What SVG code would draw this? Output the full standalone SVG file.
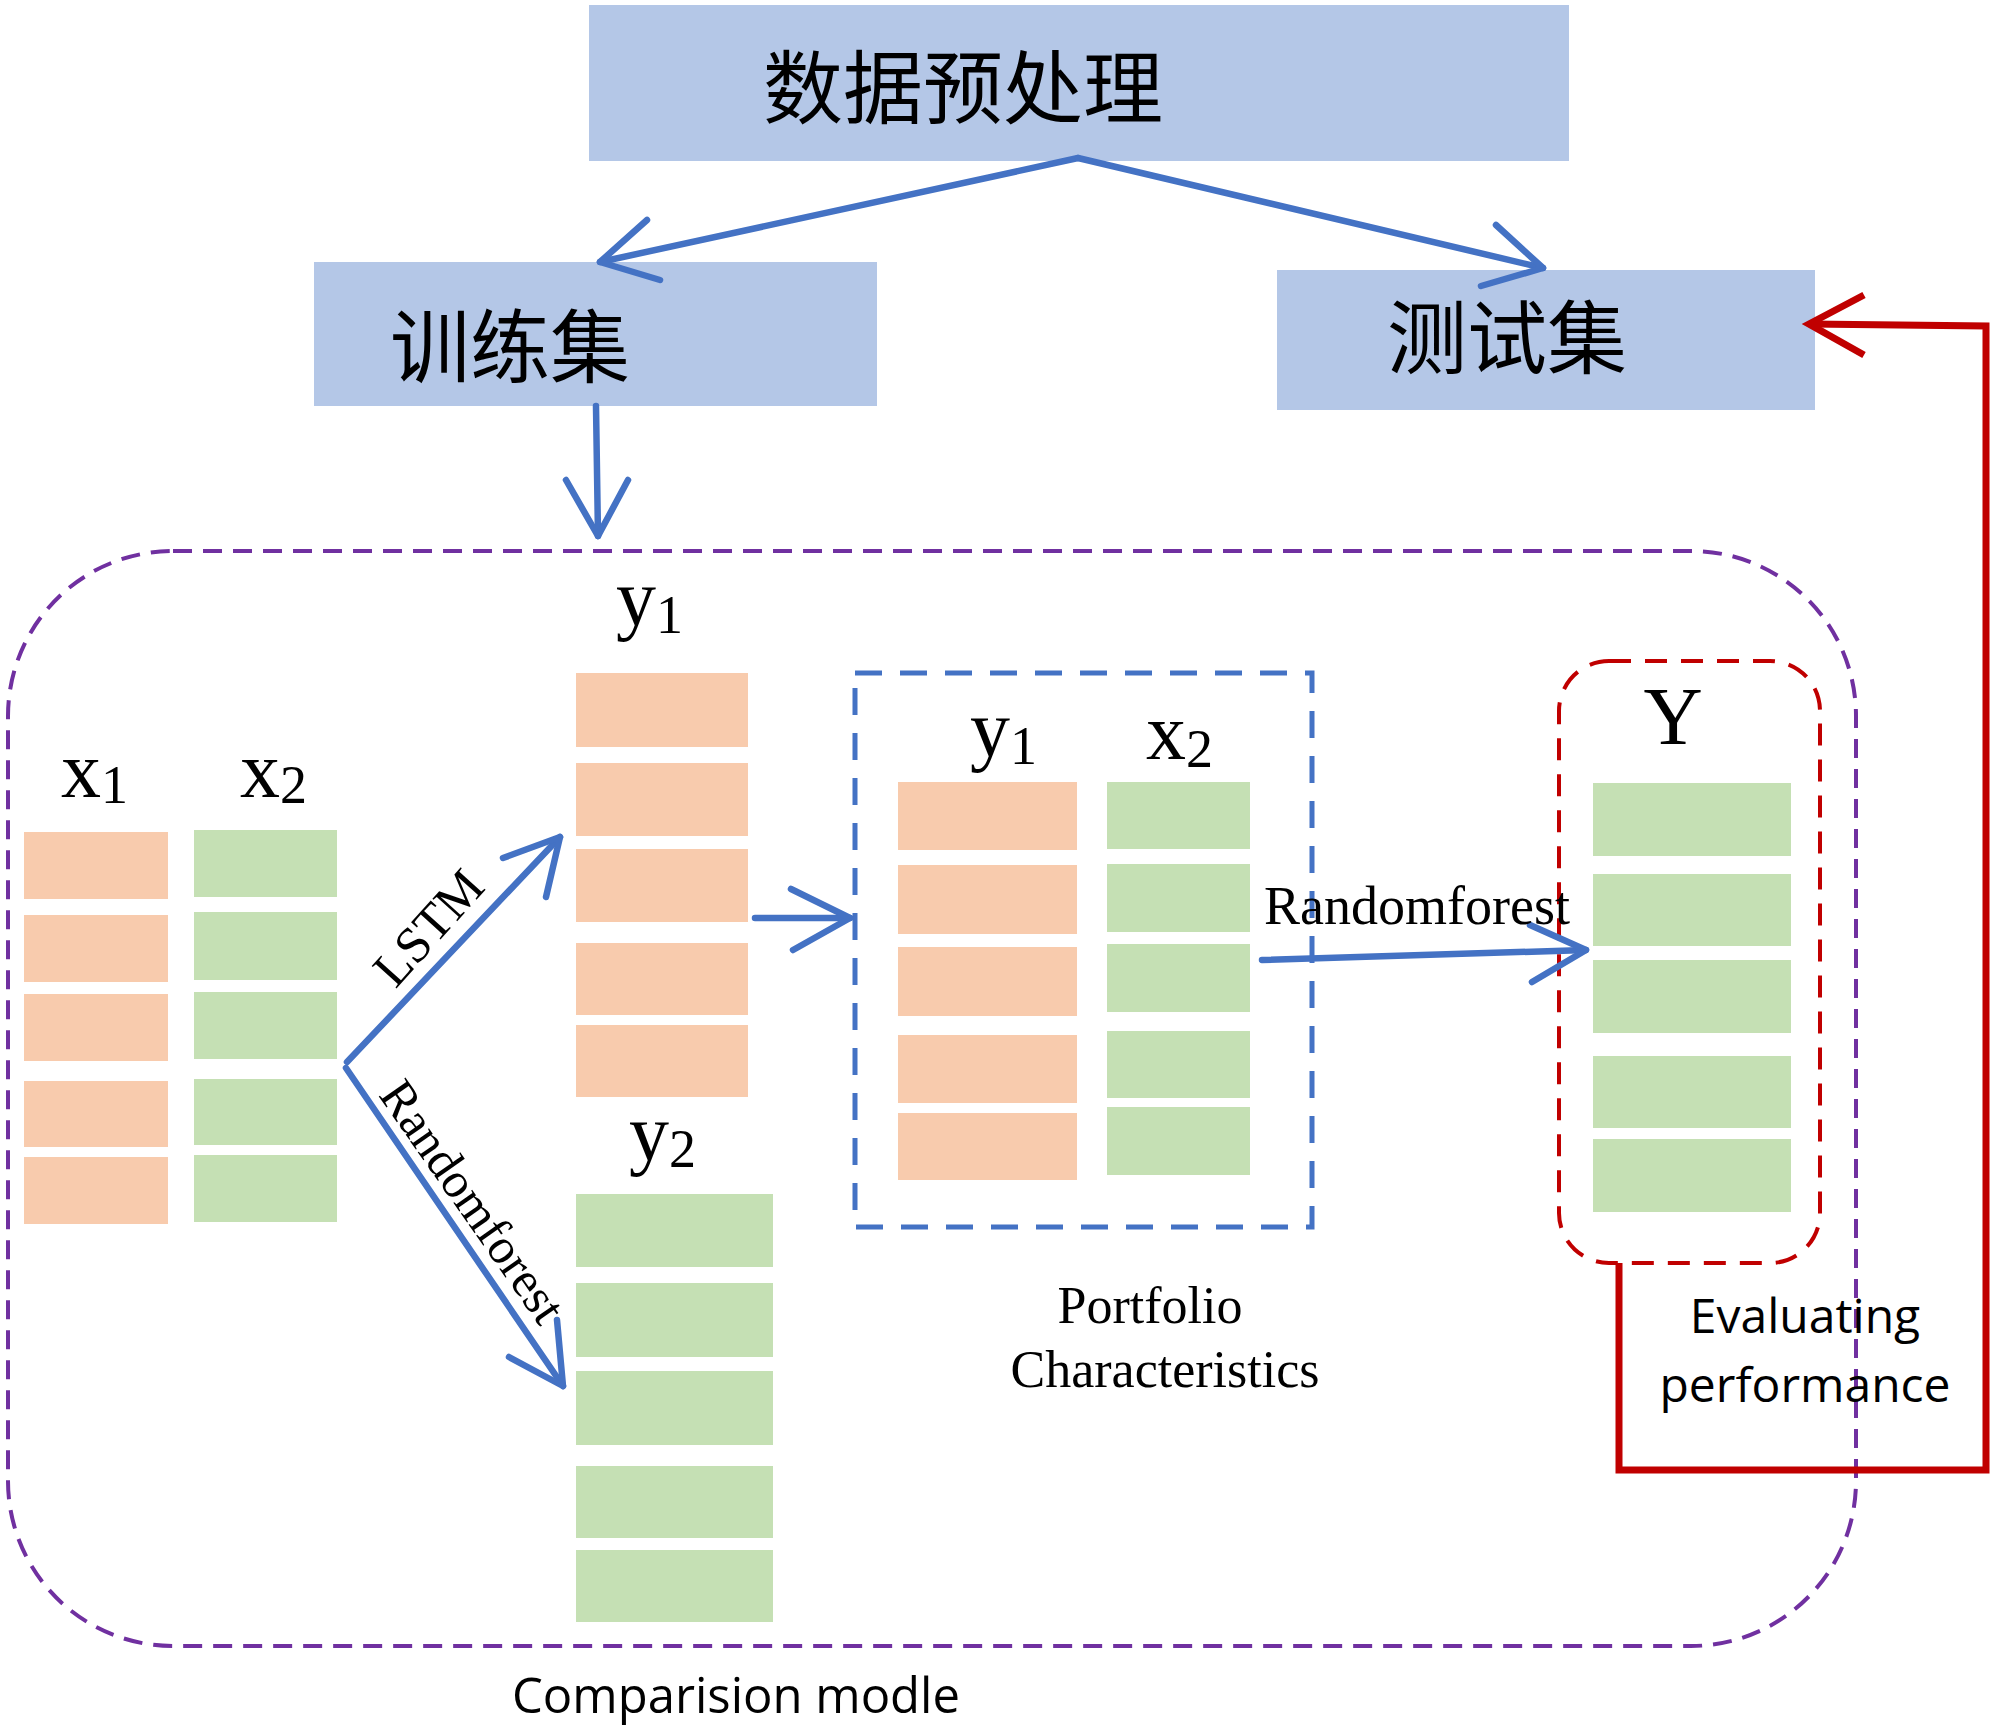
<svg xmlns="http://www.w3.org/2000/svg" width="2000" height="1730" viewBox="0 0 2000 1730">
<style>
.box{fill:#B4C7E7}
.o{fill:#F8CBAD}
.g{fill:#C5E0B4}
.cjk{font-family:"Noto Sans CJK SC","Noto Sans CJK TC",sans-serif;font-size:80px;fill:#000;text-anchor:middle}
.ser{font-family:"Liberation Serif","Times New Roman",serif;fill:#000}
.sans{font-family:"Open Sans","Liberation Sans",sans-serif;fill:#000;text-anchor:middle}
.bl{fill:none;stroke:#4472C4;stroke-width:6.5;stroke-linecap:round;stroke-linejoin:round}
.rd{fill:none;stroke:#C00000;stroke-width:7;stroke-linecap:butt;stroke-linejoin:miter}
</style>
<rect width="2000" height="1730" fill="#fff"/>

<g id="comparison-frame">
<rect x="8" y="551" width="1848" height="1095" rx="165" ry="165" fill="none" stroke="#7030A0" stroke-width="4" stroke-dasharray="19 11"/>
<text class="sans" x="736" y="1713" font-size="49">Comparision modle</text>
</g>

<g id="node-preprocess">
<rect class="box" x="589" y="5" width="980" height="156"/>
<text class="cjk" x="963" y="117">数据预处理</text>
</g>

<g id="node-train">
<rect class="box" x="314" y="262" width="563" height="144"/>
<text class="cjk" x="510" y="376">训练集</text>
</g>

<g id="node-test">
<rect class="box" x="1277" y="270" width="538" height="140"/>
<text class="cjk" x="1507" y="367">测试集</text>
</g>

<g id="node-x1">
<text class="ser" x="61" y="797" font-size="80">x<tspan font-size="54" dy="6">1</tspan></text>
<rect class="o" x="24" y="832" width="144" height="67"/>
<rect class="o" x="24" y="915" width="144" height="67"/>
<rect class="o" x="24" y="994" width="144" height="67"/>
<rect class="o" x="24" y="1081" width="144" height="66"/>
<rect class="o" x="24" y="1157" width="144" height="67"/>
</g>

<g id="node-x2">
<text class="ser" x="240" y="797" font-size="80">x<tspan font-size="54" dy="6">2</tspan></text>
<rect class="g" x="194" y="830" width="143" height="67"/>
<rect class="g" x="194" y="912" width="143" height="68"/>
<rect class="g" x="194" y="992" width="143" height="67"/>
<rect class="g" x="194" y="1079" width="143" height="66"/>
<rect class="g" x="194" y="1155" width="143" height="67"/>
</g>

<g id="node-y1">
<text class="ser" x="616" y="625" font-size="80">y<tspan font-size="54" dy="8">1</tspan></text>
<rect class="o" x="576" y="673" width="172" height="74"/>
<rect class="o" x="576" y="763" width="172" height="73"/>
<rect class="o" x="576" y="849" width="172" height="73"/>
<rect class="o" x="576" y="943" width="172" height="72"/>
<rect class="o" x="576" y="1025" width="172" height="72"/>
</g>

<g id="node-y2">
<text class="ser" x="629" y="1160" font-size="80">y<tspan font-size="54" dy="7">2</tspan></text>
<rect class="g" x="576" y="1194" width="197" height="73"/>
<rect class="g" x="576" y="1283" width="197" height="74"/>
<rect class="g" x="576" y="1371" width="197" height="74"/>
<rect class="g" x="576" y="1466" width="197" height="72"/>
<rect class="g" x="576" y="1550" width="197" height="72"/>
</g>

<g id="node-portfolio">
<rect x="855" y="673" width="457" height="554" fill="none" stroke="#4472C4" stroke-width="5" stroke-dasharray="27 18"/>
<text class="ser" x="970" y="756" font-size="80">y<tspan font-size="54" dy="8">1</tspan></text>
<text class="ser" x="1146" y="759" font-size="80">x<tspan font-size="54" dy="8">2</tspan></text>
<rect class="o" x="898" y="782" width="179" height="68"/>
<rect class="o" x="898" y="865" width="179" height="69"/>
<rect class="o" x="898" y="947" width="179" height="69"/>
<rect class="o" x="898" y="1035" width="179" height="68"/>
<rect class="o" x="898" y="1113" width="179" height="67"/>
<rect class="g" x="1107" y="782" width="143" height="67"/>
<rect class="g" x="1107" y="864" width="143" height="68"/>
<rect class="g" x="1107" y="944" width="143" height="68"/>
<rect class="g" x="1107" y="1031" width="143" height="67"/>
<rect class="g" x="1107" y="1107" width="143" height="68"/>
<text class="ser" x="1150" y="1323" font-size="52" text-anchor="middle">Portfolio</text>
<text class="ser" x="1165" y="1387" font-size="52" text-anchor="middle">Characteristics</text>
</g>

<g id="node-Y">
<rect x="1559" y="661" width="261" height="602" rx="50" ry="50" fill="none" stroke="#C00000" stroke-width="4" stroke-dasharray="22 14"/>
<text class="ser" x="1673" y="744" font-size="82" text-anchor="middle">Y</text>
<rect class="g" x="1593" y="783" width="198" height="73"/>
<rect class="g" x="1593" y="874" width="198" height="72"/>
<rect class="g" x="1593" y="960" width="198" height="73"/>
<rect class="g" x="1593" y="1056" width="198" height="72"/>
<rect class="g" x="1593" y="1139" width="198" height="73"/>
</g>

<g id="connectors">
<polyline class="bl" stroke-width="7.5" points="1078,158 600,262"/>
<polyline class="bl" stroke-width="7.5" points="647,220 600,262 660,280"/>
<polyline class="bl" stroke-width="7.5" points="1078,158 1543,268"/>
<polyline class="bl" stroke-width="7.5" points="1496,225 1543,268 1481,286"/>
<polyline class="bl" points="596,406 598,536"/>
<polyline class="bl" points="566,480 598,536 628,480"/>
<polyline class="bl" points="347,1062 560,837"/>
<polyline class="bl" points="503,858 560,837 546,897"/>
<polyline class="bl" stroke-width="5" points="346,1068 563,1386"/>
<polyline class="bl" stroke-width="5" points="509,1357 563,1386 557,1320"/>
<polyline class="bl" points="755,918 850,918"/>
<polyline class="bl" points="791,889 850,918 793,950"/>
<polyline class="bl" points="1262,960 1586,950"/>
<polyline class="bl" points="1530,925 1586,950 1532,982"/>
<polyline class="rd" points="1619,1263 1619,1470 1986,1470 1986,326 1809,324"/>
<polyline class="rd" stroke-linecap="round" points="1864,295 1809,324 1864,355"/>
<text class="ser" x="441" y="939" font-size="51" text-anchor="middle" transform="rotate(-48 441 939)">LSTM</text>
<text class="ser" x="459" y="1211" font-size="50" text-anchor="middle" transform="rotate(55 459 1211)">Randomforest</text>
<text class="ser" x="1264" y="924" font-size="54">Randomforest</text>
<text class="sans" x="1805" y="1333" font-size="48">Evaluating</text>
<text class="sans" x="1805" y="1402" font-size="48">performance</text>
</g>
</svg>
